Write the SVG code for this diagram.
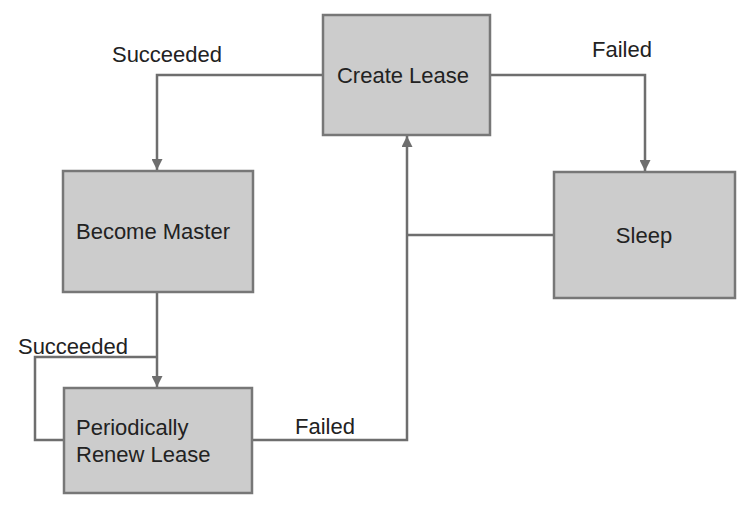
<svg xmlns="http://www.w3.org/2000/svg" width="749" height="509" viewBox="0 0 749 509">
<style>
.box{fill:#cccccc;stroke:#777777;stroke-width:2.5}
.t{font-family:"Liberation Sans",Arial,sans-serif;font-size:22px;fill:#222222}
.lbl{font-family:"Liberation Sans",Arial,sans-serif;font-size:22px;fill:#222222}
.c{fill:none;stroke:#6e6e6e;stroke-width:2.5}
</style>
<defs>
<marker id="ah" viewBox="0 0 10 10" refX="10" refY="5" markerWidth="4.4" markerHeight="4.4" orient="auto" markerUnits="strokeWidth">
<path d="M0,0 L10,5 L0,10 z" fill="#6e6e6e"/>
</marker>
</defs>
<rect width="749" height="509" fill="#ffffff"/>
<g id="connectors">
<path class="c" d="M323,75 H157 V170" marker-end="url(#ah)"/>
<path class="c" d="M490,75 H645 V171" marker-end="url(#ah)"/>
<path class="c" d="M157,292 V387" marker-end="url(#ah)"/>
<path class="c" d="M64,440 H35 V357 H157"/>
<path class="c" d="M253,440 H407 V136" marker-end="url(#ah)"/>
<path class="c" d="M554,235 H407"/>
<text class="lbl" x="167" y="62" text-anchor="middle">Succeeded</text>
<text class="lbl" x="622" y="57" text-anchor="middle">Failed</text>
<text class="lbl" x="73" y="354" text-anchor="middle">Succeeded</text>
<text class="lbl" x="325" y="434" text-anchor="middle">Failed</text>
</g>
<g id="create-lease">
<rect class="box" x="323" y="15" width="167" height="120"/>
<text class="t" x="403" y="83" text-anchor="middle">Create Lease</text>
</g>
<g id="become-master">
<rect class="box" x="63" y="171" width="190" height="121"/>
<text class="t" x="153" y="239" text-anchor="middle">Become Master</text>
</g>
<g id="sleep">
<rect class="box" x="554" y="172" width="181" height="126"/>
<text class="t" x="644" y="243" text-anchor="middle">Sleep</text>
</g>
<g id="periodically-renew-lease">
<rect class="box" x="64" y="388" width="188" height="105"/>
<text class="t" x="76" y="435">Periodically</text>
<text class="t" x="76" y="462">Renew Lease</text>
</g>
</svg>
